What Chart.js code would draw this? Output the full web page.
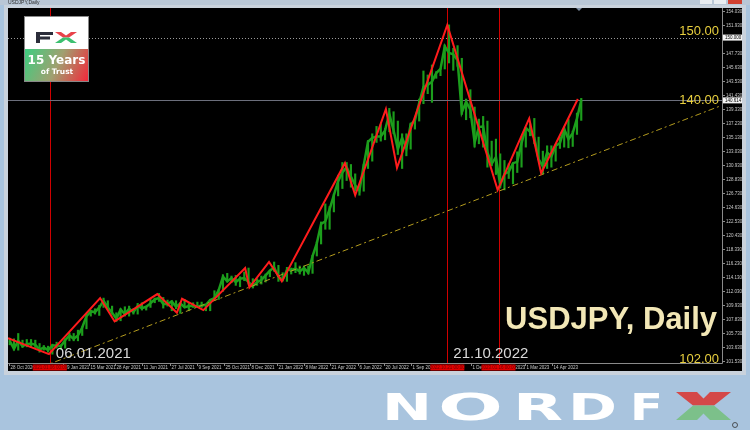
<!DOCTYPE html>
<html>
<head>
<meta charset="utf-8">
<title>USDJPY, Daily</title>
<script src="https://cdn.jsdelivr.net/npm/chart.js@4.4.1/dist/chart.umd.min.js"></script>
<style>
html, body { margin: 0; padding: 0; background: #a9c4de; }
canvas { display: block; }
</style>
</head>
<body>
<canvas id="mainChart" width="750" height="430"></canvas>
<script>
/*
 USDJPY daily chart with zigzag, trend line and level marks.
 x axis = trading bar number, bar 0 = 28 Oct 2020.
*/

// weekly bars (bar number of each Friday = 2 + 5 * week)
var weekClose = [
  104.6, 103.4, 104.6, 103.8, 104.1, 104.2, 104.0, 103.3, 103.6, 103.2,
  103.9, 103.9, 103.8, 104.7, 105.4, 104.9, 105.4, 106.6, 108.3, 109.0,
  108.9, 109.6, 110.6, 109.6, 108.8, 107.9, 109.3, 108.6, 109.4, 108.9,
  109.8, 109.5, 109.7, 110.2, 110.8, 111.0, 110.1, 110.1, 110.5, 109.7,
  110.2, 109.6, 109.8, 109.8, 109.7, 109.9, 110.0, 110.7, 111.0, 112.2,
  114.2, 113.5, 114.0, 113.4, 113.9, 114.0, 113.4, 112.8, 113.4, 113.7,
  114.4, 115.1, 115.6, 114.2, 113.7, 115.2, 115.2, 115.4, 115.0, 115.5,
  114.8, 117.3, 119.2, 122.1, 122.5, 124.3, 126.4, 128.5, 129.8, 130.6,
  129.2, 127.9, 127.1, 130.9, 134.4, 135.0, 135.2, 135.2, 136.1, 138.6,
  136.1, 133.3, 135.0, 133.4, 137.0, 137.6, 140.2, 142.6, 142.9, 143.4,
  144.7, 145.3, 148.7, 147.7, 147.5, 146.6, 138.8, 140.4, 139.2, 134.3,
  136.6, 136.7, 132.8, 131.1, 132.1, 127.9, 129.6, 129.9, 131.2, 131.4,
  134.2, 136.5, 135.9, 135.0, 131.8, 130.7, 132.8, 132.2, 133.8, 134.2,
  136.3, 134.8, 135.7, 137.9, 140.6
];
var weekHigh = [
  105.0, 104.9, 105.7, 104.7, 104.8, 104.8, 104.7, 104.2, 103.9, 103.8,
  104.1, 104.4, 104.0, 104.9, 105.8, 105.7, 106.2, 106.7, 108.6, 109.2,
  109.4, 109.9, 111.0, 110.6, 109.8, 108.8, 109.4, 109.7, 109.8, 109.4,
  110.2, 110.3, 109.8, 110.8, 111.0, 111.7, 111.1, 110.7, 110.6, 110.6,
  110.3, 110.8, 110.2, 110.3, 110.4, 110.4, 110.1, 110.8, 112.1, 112.3,
  114.5, 114.7, 114.3, 114.4, 114.2, 114.9, 115.5, 113.9, 113.9, 114.3,
  114.6, 115.2, 116.4, 115.9, 114.8, 115.6, 115.5, 116.3, 115.8, 115.8,
  115.8, 117.4, 119.4, 122.4, 125.1, 124.7, 126.6, 129.4, 131.3, 131.3,
  131.0, 129.6, 127.6, 131.0, 134.6, 135.6, 136.7, 137.0, 136.4, 139.4,
  138.9, 137.5, 135.6, 135.6, 137.2, 137.8, 140.8, 145.0, 144.4, 145.9,
  144.9, 145.4, 148.9, 151.9, 148.4, 148.8, 146.9, 140.8, 142.2, 139.6,
  137.8, 138.2, 137.5, 134.5, 134.8, 132.6, 131.6, 131.1, 131.2, 132.9,
  135.0, 136.5, 137.1, 137.9, 135.1, 133.0, 133.8, 133.8, 134.0, 135.1,
  136.6, 137.8, 136.0, 138.7, 140.9
];
var weekLow = [
  104.0, 103.2, 103.2, 103.6, 103.7, 103.6, 103.6, 102.9, 103.2, 102.9,
  102.6, 103.5, 103.3, 103.5, 104.6, 104.6, 104.6, 105.4, 106.4, 108.3,
  108.6, 108.4, 109.6, 109.3, 108.6, 107.5, 107.6, 108.3, 108.3, 108.6,
  108.6, 109.2, 109.2, 109.6, 110.3, 110.5, 109.5, 109.8, 109.1, 109.4,
  108.7, 109.6, 109.1, 109.6, 109.6, 109.6, 109.1, 109.1, 110.6, 110.8,
  112.0, 113.4, 113.3, 112.9, 112.7, 113.6, 113.1, 112.5, 112.9, 113.1,
  113.4, 114.2, 115.0, 113.5, 113.6, 113.5, 114.6, 114.8, 114.6, 114.4,
  114.6, 114.7, 117.3, 119.1, 121.3, 121.3, 123.9, 126.3, 127.4, 128.6,
  127.6, 127.0, 126.4, 127.0, 130.4, 131.5, 134.3, 134.5, 134.7, 135.9,
  135.6, 132.5, 130.4, 132.3, 133.3, 136.3, 137.5, 140.1, 141.6, 140.3,
  143.9, 144.3, 145.3, 146.2, 145.1, 145.7, 138.5, 137.7, 138.0, 133.6,
  134.1, 133.6, 130.6, 130.8, 129.5, 127.5, 127.2, 128.9, 128.1, 129.8,
  130.6, 133.6, 135.3, 134.1, 131.7, 129.6, 130.4, 130.6, 131.5, 133.4,
  133.6, 133.5, 133.7, 135.5, 137.6
];

// zigzag pivots
var zigBars = [0, 48, 108, 125, 175, 198, 204, 229, 278, 283, 306, 321, 395, 407, 443, 456, 515, 574, 611, 625, 668];
var zigPrices = [105.0, 102.6, 111.0, 107.5, 111.6, 108.8, 110.9, 109.2, 115.5, 112.6, 116.4, 113.5, 131.2, 126.4, 139.3, 130.5, 151.9, 127.2, 137.9, 129.7, 140.8];

// support trend line
var trendBars = [40, 835];
var trendPrices = [100.71, 139.76];

// marked days (red verticals)
var markBars = [49, 515, 575];
var markLabels = ['2021.01.06 00:00', '2022.10.21 00:00', '2023.01.16 00:00'];

// levels
var levelDotted = 150.0;
var levelCurrent = 140.6;
var levelCurrentLabel = '140.614';
var levelDottedLabel = '150.000';

// axis ticks
var priceTicks = [154.03, 151.93, 147.73, 145.63, 143.53, 141.43, 139.33, 137.23, 135.13, 133.03,
  130.93, 128.83, 126.73, 124.63, 122.53, 120.43, 118.33, 116.23, 114.13, 112.03,
  109.93, 107.83, 105.73, 103.63, 101.53];
var dateBars = [1, 65, 95, 126, 157, 190, 221, 253, 284, 315, 347, 378, 410, 441, 472, 543, 575, 606, 638];
var dateLabels = ['28 Oct 2020', '29 Jan 2021', '15 Mar 2021', '28 Apr 2021', '11 Jun 2021', '27 Jul 2021',
  '9 Sep 2021', '25 Oct 2021', '8 Dec 2021', '21 Jan 2022', '8 Mar 2022', '21 Apr 2022', '6 Jun 2022',
  '20 Jul 2022', '1 Sep 2022', '1 Dec 2022', '17 Jan 2023', '1 Mar 2023', '14 Apr 2023'];

// big captions
var pointCaptions = [{ bar: 49, text: '06.01.2021' }, { bar: 515, text: '21.10.2022' }];
var levelCaptions = [{ price: 150.0, text: '150.00', dy: -3 }, { price: 140.6, text: '140.00', dy: 3.5 }, { price: 102.0, text: '102.00', dy: 5 }];

var weekBars = weekClose.map(function (v, i) { return 2 + 5 * i; });

// window frame, levels, red verticals (under the data)
var frame = {
  id: 'frame',
  beforeDraw: function (chart) {
    var c = chart.ctx;
    c.save();
    c.fillStyle = '#a9c4de';
    c.fillRect(0, 0, 750, 430);
    c.fillStyle = '#c9d2dc';
    c.fillRect(4, 0, 742, 375);
    c.fillStyle = '#b9c7d6';
    c.fillRect(0, 0, 750, 5);
    c.fillStyle = '#2a2a2a';
    c.font = '5px "Liberation Sans"';
    c.textBaseline = 'middle';
    c.fillText('USDJPY,Daily', 8, 2.5);
    // window buttons
    c.fillStyle = '#e8ecf0';
    c.fillRect(700, 0, 12, 4);
    c.fillRect(714, 0, 12, 4);
    c.fillStyle = '#d04030';
    c.fillRect(728, 0, 14, 4);
    c.fillStyle = '#000';
    c.fillRect(8, 8, 734, 363);
    c.restore();
  },
  beforeDatasetsDraw: function (chart) {
    var c = chart.ctx, a = chart.chartArea, x = chart.scales.x, y = chart.scales.y;
    c.save();
    c.lineWidth = 1;
    // red verticals
    markBars.forEach(function (b) {
      var px = Math.round(x.getPixelForValue(b)) + 0.5;
      c.strokeStyle = '#d00000';
      c.beginPath(); c.moveTo(px, a.top); c.lineTo(px, a.bottom); c.stroke();
    });
    // dotted level
    var yd = Math.round(y.getPixelForValue(levelDotted)) + 0.5;
    c.strokeStyle = '#9a9a9a';
    c.setLineDash([1, 2]);
    c.beginPath(); c.moveTo(a.left, yd); c.lineTo(a.right, yd); c.stroke();
    // current price line
    c.setLineDash([]);
    var yc = Math.round(y.getPixelForValue(levelCurrent)) + 0.5;
    c.strokeStyle = '#6c6f7c';
    c.beginPath(); c.moveTo(a.left, yc); c.lineTo(a.right, yc); c.stroke();
    c.restore();
  },
  afterDraw: function (chart) {
    var c = chart.ctx, a = chart.chartArea, x = chart.scales.x, y = chart.scales.y;
    c.save();
    // axes lines
    c.strokeStyle = '#8a8a8a';
    c.lineWidth = 1;
    c.beginPath();
    c.moveTo(a.right + 0.5, a.top); c.lineTo(a.right + 0.5, a.bottom + 0.5);
    c.lineTo(a.left, a.bottom + 0.5);
    c.stroke();
    // price tick labels
    c.font = '4.5px "Liberation Sans"';
    c.textBaseline = 'middle';
    c.textAlign = 'left';
    priceTicks.forEach(function (p) {
      var py = Math.round(y.getPixelForValue(p)) + 0.5;
      c.strokeStyle = '#8a8a8a';
      c.beginPath(); c.moveTo(a.right, py); c.lineTo(a.right + 3, py); c.stroke();
      c.fillStyle = '#c8c8c8';
      c.fillText(p.toFixed(3), a.right + 4, py);
    });
    // level boxes on the price axis
    [[levelDotted, levelDottedLabel], [levelCurrent, levelCurrentLabel]].forEach(function (l) {
      var py = y.getPixelForValue(l[0]);
      c.fillStyle = '#f4f4f4';
      c.fillRect(a.right + 1, py - 3, 19, 6);
      c.fillStyle = '#000';
      c.fillText(l[1], a.right + 3, py);
    });
    // date labels
    c.textAlign = 'left';
    dateBars.forEach(function (b, i) {
      var px = Math.round(x.getPixelForValue(b)) + 0.5;
      c.strokeStyle = '#8a8a8a';
      c.beginPath(); c.moveTo(px, a.bottom); c.lineTo(px, a.bottom + 3); c.stroke();
      c.fillStyle = '#c8c8c8';
      c.fillText(dateLabels[i], px + 1, a.bottom + 4.5);
    });
    // red date boxes
    c.textAlign = 'center';
    markBars.forEach(function (b, i) {
      var px = x.getPixelForValue(b);
      c.fillStyle = '#e00000';
      c.fillRect(px - 17, a.bottom + 1.5, 34, 6);
      c.fillStyle = '#700000';
      c.fillText(markLabels[i], px, a.bottom + 4.5);
    });
    // top shift marker
    c.fillStyle = '#7c8ca0';
    c.beginPath(); c.moveTo(576, 8); c.lineTo(582, 8); c.lineTo(579, 11); c.fill();

    // level captions
    c.font = '13px "Liberation Sans"';
    c.fillStyle = '#e8cf3e';
    c.textAlign = 'right';
    c.textBaseline = 'alphabetic';
    levelCaptions.forEach(function (l) {
      c.fillText(l.text, 719, y.getPixelForValue(l.price) + l.dy);
    });
    // date captions
    c.font = '15px "Liberation Sans"';
    c.fillStyle = '#d9d9d9';
    c.textAlign = 'left';
    pointCaptions.forEach(function (p) {
      c.fillText(p.text, x.getPixelForValue(p.bar) + 6, 358);
    });
    // title
    c.font = 'bold 31px "Liberation Sans"';
    c.fillStyle = '#f2e7b6';
    c.textAlign = 'right';
    c.fillText('USDJPY, Daily', 717, 329);

    // FX badge
    c.fillStyle = '#ffffff';
    c.fillRect(25, 17, 63, 32);
    var g = c.createLinearGradient(25, 52, 88, 81);
    g.addColorStop(0, '#40cc80');
    g.addColorStop(0.5, '#a0a070');
    g.addColorStop(1, '#f2283a');
    c.fillStyle = g;
    c.fillRect(25, 49, 63, 32);
    c.strokeStyle = '#888';
    c.strokeRect(24.5, 16.5, 64, 65);
    c.fillStyle = '#2b2d3a';
    c.fillRect(36, 32, 4, 11);
    c.fillRect(36, 32, 17, 3);
    c.fillRect(36, 36.5, 14, 3);
    c.fillStyle = '#e8424a';
    c.beginPath();
    c.moveTo(55, 32); c.lineTo(61, 32); c.lineTo(66, 35.5); c.lineTo(71, 32); c.lineTo(77, 32); c.lineTo(69, 37.5); c.lineTo(63, 37.5);
    c.closePath(); c.fill();
    c.fillStyle = '#3cc070';
    c.beginPath();
    c.moveTo(63, 37.5); c.lineTo(69, 37.5); c.lineTo(77, 43); c.lineTo(71, 43); c.lineTo(66, 39.5); c.lineTo(61, 43); c.lineTo(55, 43);
    c.closePath(); c.fill();
    c.fillStyle = '#ffffff';
    c.textAlign = 'center';
    c.font = 'bold 12px "DejaVu Sans"';
    c.fillText('15 Years', 56.5, 64);
    c.font = 'bold 7.5px "DejaVu Sans"';
    c.fillText('of Trust', 57, 74);

    // NORD FX logo
    c.font = 'bold 38px "DejaVu Sans"';
    c.textAlign = 'left';
    c.fillStyle = '#ffffff';
    [['N', 382, 432], ['O', 438, 503], ['R', 513, 563], ['D', 568, 617], ['F', 630, 663]].forEach(function (l) {
      var w = c.measureText(l[0]).width;
      c.save();
      c.translate(l[1], 420);
      c.scale((l[2] - l[1]) / w, 1);
      c.fillText(l[0], 0, 0);
      c.restore();
    });
    c.fillStyle = '#d44848';
    c.beginPath();
    c.moveTo(676, 392); c.lineTo(697, 392); c.lineTo(703.5, 398.5); c.lineTo(710, 392); c.lineTo(731, 392); c.lineTo(714, 405.5); c.lineTo(693, 405.5);
    c.closePath(); c.fill();
    c.fillStyle = '#7cc08a';
    c.beginPath();
    c.moveTo(693, 405.5); c.lineTo(714, 405.5); c.lineTo(731, 420); c.lineTo(710, 420); c.lineTo(703.5, 413.5); c.lineTo(697, 420); c.lineTo(676, 420);
    c.closePath(); c.fill();
    c.strokeStyle = '#333';
    c.lineWidth = 0.8;
    c.beginPath(); c.arc(735, 425, 2.5, 0, Math.PI * 2); c.stroke();
    c.restore();
  }
};

function build_chart() {
  var ctx = document.getElementById('mainChart').getContext('2d');
  var ranges = weekBars.map(function (b, i) { return { x: b, y: [weekLow[i], weekHigh[i]] }; });
  var closes = weekBars.map(function (b, i) { return { x: b, y: weekClose[i] }; });
  var zig = zigBars.map(function (b, i) { return { x: b, y: zigPrices[i] }; });
  var trend = trendBars.map(function (b, i) { return { x: b, y: trendPrices[i] }; });

  new Chart(ctx, {
    type: 'bar',
    data: {
      datasets: [
        { type: 'line', data: zig, borderColor: '#ff1c1c', borderWidth: 2, pointRadius: 0, tension: 0, order: 0 },
        { type: 'line', data: trend, borderColor: '#b39b1e', borderWidth: 1, borderDash: [6, 3, 2, 3], pointRadius: 0, order: 1 },
        { type: 'line', data: closes, borderColor: '#1c9e1c', borderWidth: 2.5, pointRadius: 0, tension: 0, order: 2 },
        { type: 'bar', data: ranges, backgroundColor: '#1c9e1c', barThickness: 1.5, order: 3 }
      ]
    },
    options: {
      responsive: false,
      animation: false,
      layout: { padding: { left: 8, top: 8, right: 28, bottom: 67 } },
      plugins: { legend: { display: false }, tooltip: { enabled: false } },
      scales: {
        x: { type: 'linear', min: 0, max: 837, offset: false, display: false },
        y: { type: 'linear', min: 101.28, max: 154.43, display: false }
      }
    },
    plugins: [frame]
  });
}

build_chart();
</script>
</body>
</html>
